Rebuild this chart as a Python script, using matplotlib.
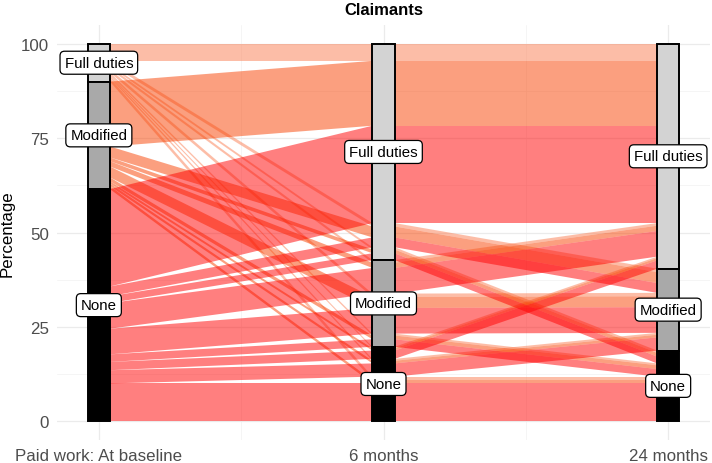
import matplotlib
matplotlib.use("Agg")
import matplotlib.pyplot as plt

plt.rcParams['font.family'] = ['Liberation Sans', 'DejaVu Sans']

# axes and status levels (top to bottom)
axis_labels = ['Paid work: At baseline', '6 months', '24 months']
levels = ['Full duties', 'Modified', 'None']

# one alluvium per path: status at baseline, 6 months, 24 months, percent
baseline = ['Full duties'] * 9 + ['Modified'] * 9 + ['None'] * 9
month6 = (['Full duties'] * 3 + ['Modified'] * 3 + ['None'] * 3) * 3
month24 = ['Full duties', 'Modified', 'None'] * 9
pct = [4.5, 0.9, 0.6, 0.7, 0.9, 0.5, 0.4, 0.5, 1.0,
       17.2, 2.9, 1.0, 1.4, 2.9, 1.0, 0.6, 0.7, 0.8,
       25.8, 2.6, 1.8, 6.8, 6.8, 2.0, 2.2, 3.5, 10.0]

flow_colors = {'Full duties': '#FB7D51', 'Modified': '#F84100', 'None': '#FF0000'}
stratum_colors = {'Full duties': '#D3D3D3', 'Modified': '#A9A9A9', 'None': '#000000'}

paths = list(zip(baseline, month6, month24))
n = len(pct)
rank = {lv: i for i, lv in enumerate(levels)}
guide = [(0, 1, 2), (1, 2, 0), (2, 1, 0)]
width = 0.078

# stack lodes on each axis, first one on top
lo = [[0] * 3 for _ in range(n)]
hi = [[0] * 3 for _ in range(n)]
for k in range(3):
    order = sorted(range(n), key=lambda i: tuple(rank[paths[i][g]] for g in guide[k]))
    top = sum(pct)
    for i in order:
        hi[i][k] = top
        lo[i][k] = top - pct[i]
        top -= pct[i]

fig = plt.figure(figsize=(7.12, 4.64), dpi=100)
ax = fig.add_axes([57 / 712, 23 / 464, 653 / 712, 415 / 464])

# flows
for i in range(n):
    col = flow_colors[baseline[i]]
    for k in range(2):
        xa = k + 1 + width / 2
        xb = k + 2 - width / 2
        ax.fill([xa, xb, xb, xa], [hi[i][k], hi[i][k + 1], lo[i][k + 1], lo[i][k]],
                color=col, alpha=0.5, lw=0, zorder=2)
    for k in range(3):
        ax.fill([k + 1 - width / 2, k + 1 + width / 2, k + 1 + width / 2, k + 1 - width / 2],
                [hi[i][k], hi[i][k], lo[i][k], lo[i][k]], color=col, alpha=0.5, lw=0, zorder=2)

# strata
cols = [baseline, month6, month24]
for k in range(3):
    top = sum(pct)
    for lv in levels:
        h = sum(p for p, s in zip(pct, cols[k]) if s == lv)
        ax.bar(k + 1, h, bottom=top - h, width=width, color=stratum_colors[lv],
               edgecolor='black', linewidth=1.4, zorder=3)
        ax.text(k + 1, top - h / 2, lv, ha='center', va='center', fontsize=10.8, zorder=4,
                bbox=dict(boxstyle='round,pad=0.3,rounding_size=0.3', fc='white',
                          ec='black', lw=0.9))
        top -= h

ax.set_xlim(0.853, 3.147)
ax.set_ylim(-5, 105)
ax.set_xticks([1, 2, 3])
ax.set_xticklabels(axis_labels)
ax.set_xticks([1.5, 2.5], minor=True)
ax.set_yticks([0, 25, 50, 75, 100])
ax.set_yticks([12.5, 37.5, 62.5, 87.5], minor=True)
ax.grid(which='major', color='#EBEBEB', lw=0.9, zorder=0)
ax.grid(which='minor', color='#F2F2F2', lw=0.5, zorder=0)
ax.set_axisbelow(True)
ax.tick_params(which='both', length=0, labelsize=12.2, labelcolor='#4D4D4D', pad=6)
for s in ax.spines.values():
    s.set_visible(False)
ax.set_ylabel('Percentage', fontsize=12.2)
ax.set_title('Claimants', fontsize=12, fontweight='bold', pad=8)

fig.savefig('out.png', dpi=100)
